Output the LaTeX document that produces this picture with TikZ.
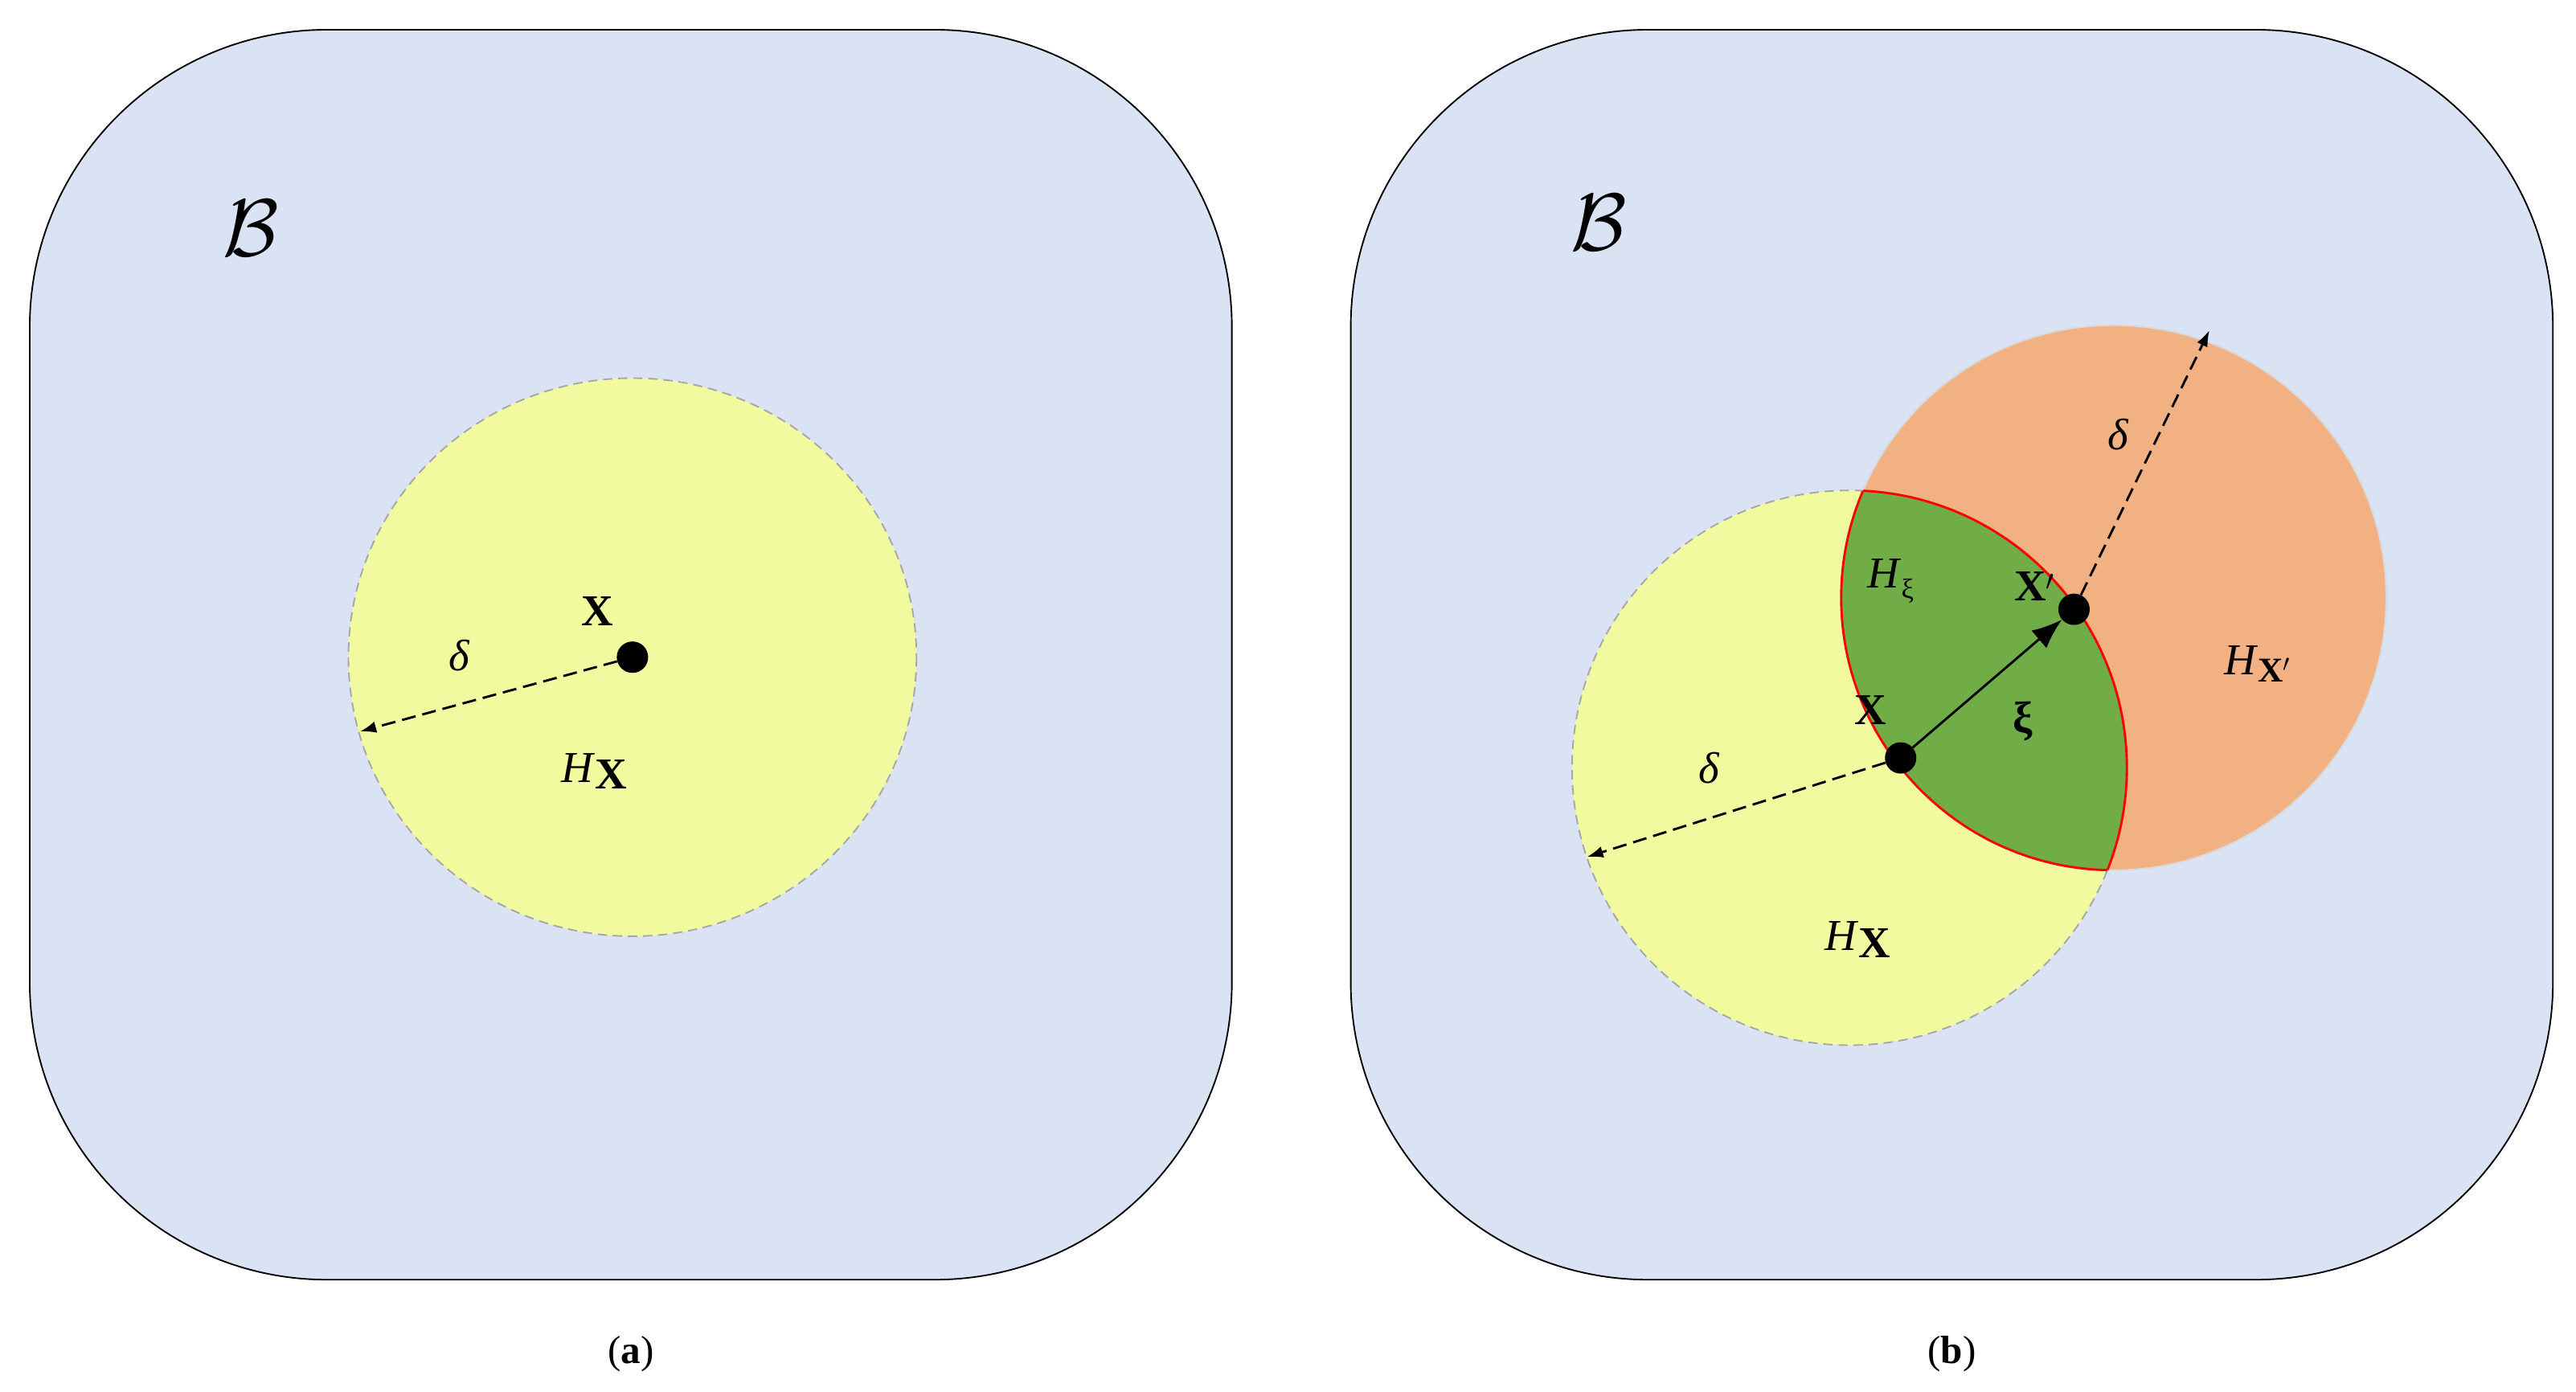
\documentclass[tikz,border=0pt]{standalone}
\usepackage{fontspec}
\usetikzlibrary{arrows.meta}
\setmainfont{Liberation Serif}
\begin{document}
\begin{tikzpicture}[x=0.05cm,y=-0.05cm,
  panel/.style={draw=black,line width=1.3pt,fill={rgb,255:red,218;green,227;blue,243},rounded corners=9cm},
  yel/.style={fill={rgb,255:red,242;green,250;blue,160},draw=gray!70,dashed,line width=1.3pt,dash pattern=on 8pt off 5pt},
  ora/.style={fill={rgb,255:red,241;green,177;blue,131},draw=gray!30,line width=1.3pt},
  dot/.style={circle,fill=black,inner sep=0pt,minimum size=0.95cm},
  lab/.style={font=\fontsize{38}{46}\selectfont},
  darr/.style={-{Latex[length=14pt,width=10pt]},dashed,line width=2pt,dash pattern=on 12pt off 6pt}]
\useasboundingbox (0,0) rectangle (1560,843);
% panel a
\draw[panel] (18,18) rectangle (746,775);
\draw[yel] (383,398) ellipse [x radius=172,y radius=169];
\node[dot] (xa) at (383,398) {};
\coordinate (ea) at (218,443);
\draw[darr] (xa) -- (ea);
\node[lab] (da) at (278,397) {\textit{δ}};
\node[lab] (Xa) at (362,370) {\textbf{X}};
\node[lab] (Ha) at (360,467) {\textit{H}\raisebox{-0.35ex}{\textbf{X}}};
\node (Ba) at (152,138) {\scalebox{7}{$\mathcal{B}$}};
\node[font=\fontsize{34}{40}\selectfont] (ca) at (382,820) {(\textbf{a})};
% panel b
\draw[panel] (818,18) rectangle (1546,775);
\draw[yel] (1120,465) circle (168);
\draw[ora] (1280,362) circle (165);
\begin{scope}
\clip (1120,465) circle (168);
\fill[fill={rgb,255:red,112;green,173;blue,71}] (1280,362) circle (165);
\draw[red,line width=2pt] (1280,362) circle (165);
\end{scope}
\begin{scope}
\clip (1280,362) circle (165);
\draw[red,line width=2pt] (1120,465) circle (168);
\end{scope}
\node[dot] (xb) at (1151,459) {};
\node[dot] (xp) at (1256,369) {};
\draw[-{Latex[length=26pt,width=20pt]},line width=2pt] (xb) -- (xp);
\coordinate (ep) at (1338,200);
\coordinate (eb) at (961,519);
\draw[darr] (xp) -- (ep);
\draw[darr] (xb) -- (eb);
\node[lab] (d1) at (1283,263) {\textit{δ}};
\node[lab] (d2) at (1035,465) {\textit{δ}};
\node[lab] (Hxi) at (1145,352) {\textit{H}\raisebox{-0.5ex}{\fontsize{24}{28}\selectfont ξ}};
\node[lab] (Xp) at (1232,355) {\textbf{X}$'$};
\node[lab] (Hp) at (1367,402) {\textit{H}\raisebox{-0.35ex}{\fontsize{30}{36}\selectfont\textbf{X}$'$}};
\node[lab] (Xb) at (1133,430) {\textbf{X}};
\node[lab] (xi) at (1225,437) {\textbf{ξ}};
\node[lab] (Hb) at (1125,569) {\textit{H}\raisebox{-0.35ex}{\textbf{X}}};
\node (Bb) at (968,135) {\scalebox{7}{$\mathcal{B}$}};
\node[font=\fontsize{34}{40}\selectfont] (cb) at (1182,820) {(\textbf{b})};
\end{tikzpicture}
\end{document}
